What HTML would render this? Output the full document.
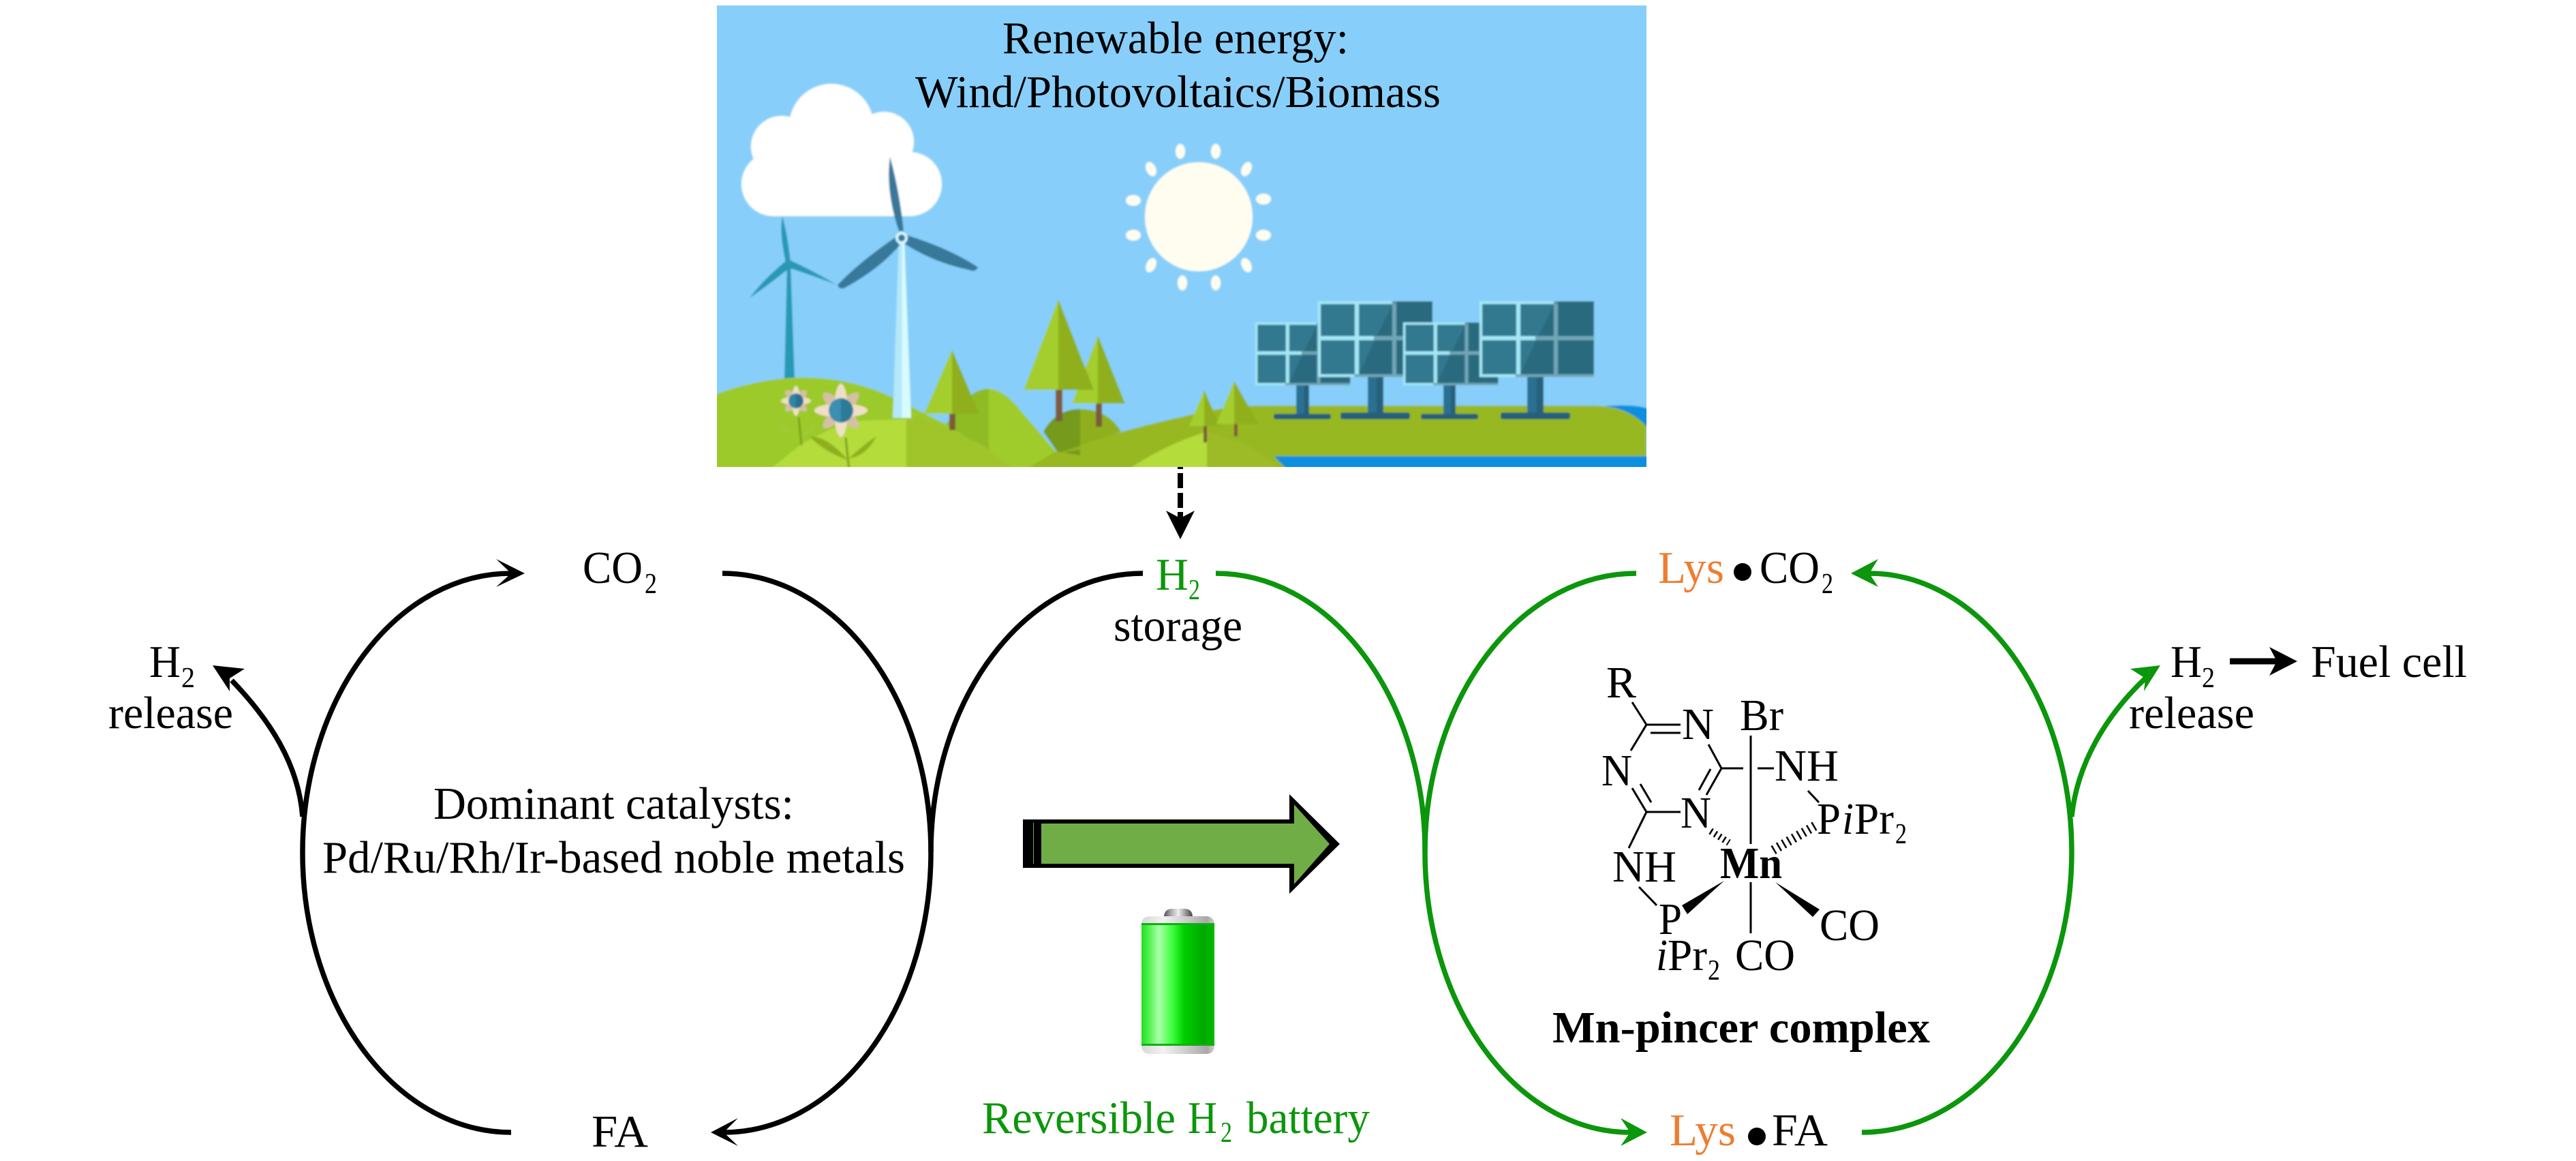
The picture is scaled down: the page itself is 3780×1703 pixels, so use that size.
<!DOCTYPE html>
<html><head><meta charset="utf-8"><style>
html,body{margin:0;padding:0;background:#fff}
svg{display:block}
text{font-family:"Liberation Serif",serif;font-size:67px;fill:#000}
.s{font-size:42px}
.g{fill:#0b960b}
.o{fill:#ed7d31}
.b{font-weight:bold}
.m{font-size:66px}
</style></head><body>
<svg width="3780" height="1703" viewBox="0 0 3780 1703" xmlns="http://www.w3.org/2000/svg">
<defs>
<filter id="soft" x="0" y="0" width="1" height="1"><feGaussianBlur stdDeviation="1.2"/></filter>
<clipPath id="sceneclip"><rect x="1052" y="8" width="1364" height="677"/></clipPath>
<linearGradient id="bat" x1="0" x2="1" y1="0" y2="0"><stop offset="0" stop-color="#20e020"/><stop offset=".1" stop-color="#50f050"/><stop offset=".24" stop-color="#a8ffa8"/><stop offset=".42" stop-color="#40ff40"/><stop offset=".58" stop-color="#00d000"/><stop offset=".85" stop-color="#00a800"/><stop offset="1" stop-color="#00bc00"/></linearGradient>
<linearGradient id="met" x1="0" x2="1" y1="0" y2="0"><stop offset="0" stop-color="#d8d8d8"/><stop offset=".3" stop-color="#f2f2f2"/><stop offset=".65" stop-color="#c8c8c8"/><stop offset=".9" stop-color="#a8a8a8"/><stop offset="1" stop-color="#d0d0d0"/></linearGradient>
<linearGradient id="cap" x1="0" x2="1" y1="0" y2="0"><stop offset="0" stop-color="#555"/><stop offset=".25" stop-color="#aaa"/><stop offset=".5" stop-color="#f0f0f0"/><stop offset=".75" stop-color="#999"/><stop offset="1" stop-color="#444"/></linearGradient>
<linearGradient id="tower" x1="0" x2="1" y1="0" y2="0"><stop offset=".5" stop-color="#b5e8f8"/><stop offset=".5" stop-color="#d8fbff"/></linearGradient>
<g id="panel">
<rect width="168" height="111" fill="#a4e8f8"/>
<rect x="82" y="51" width="86" height="6" fill="#6fa6b6"/>
<rect x="53" y="107" width="115" height="4" fill="#6fa6b6"/>
<rect x="109" y="0" width="6" height="111" fill="#6fa6b6"/>
<rect x="109" y="0" width="59" height="4" fill="#5f909f"/>
<rect x="4" y="4" width="50" height="47" fill="#33788e"/><rect x="60" y="4" width="49" height="47" fill="#33788e"/><rect x="115" y="0" width="53" height="51" fill="#2b6b7e"/>
<rect x="4" y="57" width="50" height="50" fill="#33788e"/><rect x="60" y="57" width="49" height="50" fill="#33788e"/><rect x="115" y="57" width="53" height="50" fill="#2b6b7e"/>
<path d="M109 6L86 51H109ZM83 57L60 107H109V57Z" fill="#2b6b7e"/>
</g>
</defs>

<!-- scene -->
<g clip-path="url(#sceneclip)"><g filter="url(#soft)">
<rect x="1040" y="0" width="1390" height="700" fill="#87cffa"/>
<!-- cloud -->
<g fill="#fff">
<circle cx="1220" cy="185" r="62"/><circle cx="1147" cy="215" r="45"/><circle cx="1297" cy="208" r="44"/><circle cx="1135" cy="270" r="47"/><circle cx="1335" cy="270" r="47"/><rect x="1135" y="190" width="200" height="127"/>
</g>
<!-- sun -->
<ellipse cx="1759" cy="318" rx="79" ry="80" fill="#fffdf0"/>
<g fill="#fffdf0">
<ellipse cx="1732" cy="222" rx="7" ry="11"/><ellipse cx="1784" cy="222" rx="7" ry="11"/>
<ellipse cx="1689" cy="248" rx="7" ry="11" transform="rotate(-25 1689 248)"/><ellipse cx="1829" cy="248" rx="7" ry="11" transform="rotate(25 1829 248)"/>
<ellipse cx="1663" cy="294" rx="11" ry="8"/><ellipse cx="1854" cy="292" rx="11" ry="8"/>
<ellipse cx="1663" cy="345" rx="11" ry="8"/><ellipse cx="1854" cy="345" rx="11" ry="8"/>
<ellipse cx="1689" cy="389" rx="7" ry="11" transform="rotate(25 1689 389)"/><ellipse cx="1829" cy="389" rx="7" ry="11" transform="rotate(-25 1829 389)"/>
<ellipse cx="1735" cy="415" rx="7" ry="11"/><ellipse cx="1784" cy="415" rx="7" ry="11"/>
</g>
<!-- small turbine -->
<g fill="#2699b5">
<path d="M1155 386L1160 386L1166 556H1151Z"/>
<path d="M1153 385Q1143 340 1148 317Q1156 345 1160 385Z"/>
<path d="M1154 382Q1120 410 1100 437Q1125 420 1160 392Z"/>
<path d="M1158 381Q1195 398 1228 418Q1195 405 1155 392Z"/>
</g>
<!-- right ground -->
<path d="M1491 685L1549 662Q1650 630 1740 610Q1790 597 1840 595L2340 595Q2390 597 2416 625V700H1491Z" fill="#98b824"/>
<path d="M2354 596Q2400 592 2420 600V630Q2395 600 2354 596Z" fill="#0f8fe0"/>
<path d="M1869 669H2420V700H1900Z" fill="#0f8fe0"/>
<!-- solar panels -->
<g fill="#2c7090">
<rect x="1902" y="560" width="19" height="50"/><rect x="2007" y="550" width="23" height="60"/><rect x="2118" y="560" width="18" height="50"/><rect x="2241" y="550" width="24" height="60"/>
</g>
<g fill="#27607a">
<rect x="1914" y="560" width="7" height="50"/><rect x="2020" y="550" width="10" height="60"/><rect x="2129" y="560" width="7" height="50"/><rect x="2255" y="550" width="10" height="60"/>
<rect x="1869" y="607" width="84" height="8" rx="3"/><rect x="1967" y="605" width="102" height="10" rx="3"/><rect x="2085" y="607" width="84" height="8" rx="3"/><rect x="2202" y="605" width="102" height="10" rx="3"/>
</g>
<use href="#panel" transform="translate(1842 473) scale(.83)"/>
<use href="#panel" transform="translate(1934 442)"/>
<use href="#panel" transform="translate(2059 473) scale(.83)"/>
<use href="#panel" transform="translate(2171 442)"/>
<!-- dark small hill -->
<path d="M1531 633Q1550 600 1585 600V668L1551 662Z" fill="#759a1c"/>
<path d="M1585 600Q1625 600 1645 633L1551 665L1585 660Z" fill="#8fb01f"/>
<!-- back trees -->
<rect x="1608" y="590" width="9" height="36" fill="#7d5a3a"/>
<path d="M1611 492L1573 592H1611Z" fill="#a4ce2e"/><path d="M1611 492L1651 592H1611Z" fill="#8fb01f"/>
<rect x="1549" y="570" width="10" height="48" fill="#7d5a3a"/>
<path d="M1553 439L1502 572H1553Z" fill="#a4ce2e"/><path d="M1553 439L1605 572H1553Z" fill="#8fb01f"/>
<!-- mid hill -->
<path d="M1388 622L1428 577Q1440 570 1451 570V700H1388Z" fill="#8fbc22"/>
<path d="M1451 570Q1475 572 1500 605L1549 662L1486 700H1451Z" fill="#9fcc2a"/>
<!-- left hill -->
<path d="M1040 582Q1187 525 1310 583L1388 622L1486 685V700H1040Z" fill="#9cca2c"/>
<!-- tree 1 -->
<rect x="1393" y="605" width="9" height="26" fill="#7d5a3a"/>
<path d="M1397 513L1356 607H1397Z" fill="#a4ce2e"/><path d="M1397 513L1437 607H1397Z" fill="#8fb01f"/>
<!-- foreground hill -->
<path d="M1115 700L1174 653Q1220 625 1263 617L1330 615V700Z" fill="#b4dc3a"/>
<path d="M1330 615L1350 610L1442 653L1500 700H1330Z" fill="#9fc52b"/>
<!-- right front hill -->
<path d="M1640 700Q1700 655 1771 633V700Z" fill="#b4dc3a"/>
<path d="M1771 633L1829 652L1900 700H1771Z" fill="#9cbb25"/>
<!-- front trees -->
<rect x="1766" y="625" width="5" height="24" fill="#7d5a3a"/><rect x="1811" y="620" width="5" height="20" fill="#7d5a3a"/>
<path d="M1767 572L1745 625H1767Z" fill="#a4ce2e"/><path d="M1767 572L1790 625H1767Z" fill="#8fb01f"/>
<path d="M1811 559L1785 622H1811Z" fill="#a4ce2e"/><path d="M1811 559L1847 622H1811Z" fill="#8fb01f"/>
<!-- big turbine -->
<path d="M1319 350H1327L1337 613H1310Z" fill="url(#tower)"/>
<g fill="#37789a">
<path d="M1319 339Q1299 280 1306 230Q1320 280 1326 339Z"/>
<path d="M1331 345Q1395 365 1435 392Q1432 400 1422 396Q1370 385 1328 358Z"/>
<path d="M1314 348Q1260 385 1229 418Q1232 426 1240 422Q1290 395 1320 360Z"/>
</g>
<circle cx="1323" cy="349" r="9" fill="#d4f4fb"/><circle cx="1323" cy="349" r="5" fill="#37789a"/>
<!-- flowers -->
<g stroke="#7f9e1e" stroke-width="3" fill="none"><path d="M1172 612L1176 653"/><path d="M1241 642L1246 690"/></g>
<path d="M1174 640Q1150 630 1142 618Q1145 635 1160 635ZM1174 640Q1190 630 1197 615Q1195 632 1180 640Z" fill="#a5c73a"/>
<path d="M1244 675Q1205 660 1188 640Q1215 640 1244 675ZM1246 672Q1270 650 1286 640Q1270 670 1246 672Z" fill="#8fb01f"/>
<g fill="#d5bfa5"><ellipse cx="1168" cy="588" rx="21" ry="7" transform="rotate(45 1168 588)"/><ellipse cx="1168" cy="588" rx="21" ry="7" transform="rotate(-45 1168 588)"/><ellipse cx="1234" cy="602" rx="36" ry="10" transform="rotate(45 1234 602)"/><ellipse cx="1234" cy="602" rx="36" ry="10" transform="rotate(-45 1234 602)"/></g>
<g fill="#efdfc5"><ellipse cx="1168" cy="588" rx="22" ry="6"/><ellipse cx="1168" cy="588" rx="6" ry="22"/><ellipse cx="1234" cy="602" rx="39" ry="10"/><ellipse cx="1234" cy="602" rx="10" ry="39"/></g>
<path d="M1168 577A11 11 0 0 0 1168 599Z" fill="#2e85a5"/><path d="M1168 577A11 11 0 0 1 1168 599Z" fill="#2a6f90"/>
<path d="M1234 584A18 18 0 0 0 1234 620Z" fill="#3a8fb0"/><path d="M1234 584A18 18 0 0 1 1234 620Z" fill="#2a7a98"/>
</g></g>
<!-- scene text -->
<text x="1471" y="78" textLength="508" lengthAdjust="spacingAndGlyphs">Renewable energy:</text>
<text x="1343" y="157" textLength="771" lengthAdjust="spacingAndGlyphs">Wind/Photovoltaics/Biomass</text>

<!-- dashed arrow -->
<g fill="#000"><rect x="1728" y="685" width="8" height="3"/><rect x="1728" y="694" width="8" height="22"/><rect x="1728" y="723" width="8" height="22"/><rect x="1728" y="751" width="8" height="12"/></g>
<path d="M1711 749L1732 760L1753 749L1732 791Z" fill="#000"/>

<!-- cycle arcs -->
<g fill="none" stroke="#000" stroke-width="7.5">
<path d="M750 1661A306 410 0 0 1 444 1250A306 409 0 0 1 750 841"/>
<path d="M1060 841A306 409 0 0 1 1366 1250A304 411 0 0 1 1062 1661"/>
<path d="M1677 841A311 409 0 0 0 1366 1250"/>
<path d="M444 1198C438 1120 395 1055 340 998"/>
</g>
<g fill="#000">
<path d="M770 841L728 820L750 841L728 861Z"/>
<path d="M1043 1661L1083 1640L1062 1661L1083 1681Z"/>
<path d="M312 976L359 981L337 995L337 1014Z"/>
</g>
<g fill="none" stroke="#0b960b" stroke-width="7.5">
<path d="M1784 841A307 408 0 0 1 2091 1249"/>
<path d="M2401 841A310 409 0 0 0 2091 1250A301 411 0 0 0 2392 1661"/>
<path d="M2743 841A297 409 0 0 1 3040 1250A308 411 0 0 1 2732 1661"/>
<path d="M3040 1198C3048 1120 3090 1050 3148 995"/>
</g>
<g fill="#0b960b">
<path d="M2716 841L2756 820L2743 841L2756 861Z"/>
<path d="M2417 1661L2378 1640L2392 1661L2378 1681Z"/>
<path d="M3170 976L3126 981L3148 995L3146 1014Z"/>
</g>
<!-- fuel arrow -->
<path d="M3272 970H3345" stroke="#000" stroke-width="9" fill="none"/>
<path d="M3371 970L3330 949L3341 970L3330 991Z" fill="#000"/>

<!-- big arrow -->
<path d="M1501 1202H1892V1165L1966 1238L1892 1311V1273H1501Z" fill="#000"/>
<path d="M1528 1208H1899V1180L1951 1238L1899 1297V1267H1528Z" fill="#70ad47"/>
<rect x="1516" y="1207" width="1" height="60" fill="#70ad47"/>

<!-- battery -->
<path d="M1708 1344Q1709 1333 1720 1333H1738Q1749 1333 1750 1344Z" fill="url(#cap)"/>
<rect x="1675" y="1344" width="107" height="202" rx="11" fill="url(#met)"/>
<rect x="1675" y="1354" width="107" height="180" fill="url(#bat)"/>
<rect x="1675" y="1354" width="107" height="3" fill="#0fb00f"/>
<rect x="1675" y="1531" width="107" height="3" fill="#0fb00f"/>

<!-- labels -->
<text x="855" y="855" textLength="88" lengthAdjust="spacingAndGlyphs">CO</text><text class="s" x="946" y="870" textLength="18" lengthAdjust="spacingAndGlyphs">2</text>
<text x="219" y="993" textLength="46" lengthAdjust="spacingAndGlyphs">H</text><text class="s" x="266" y="1008" textLength="20" lengthAdjust="spacingAndGlyphs">2</text>
<text x="159" y="1068" textLength="183" lengthAdjust="spacingAndGlyphs">release</text>
<text x="636" y="1201" textLength="529" lengthAdjust="spacingAndGlyphs">Dominant catalysts:</text>
<text x="473" y="1280" textLength="855" lengthAdjust="spacingAndGlyphs">Pd/Ru/Rh/Ir-based noble metals</text>
<text x="868" y="1682" textLength="83" lengthAdjust="spacingAndGlyphs">FA</text>

<text class="g" x="1696" y="865" textLength="48" lengthAdjust="spacingAndGlyphs">H</text><text class="s g" x="1744" y="879" textLength="17" lengthAdjust="spacingAndGlyphs">2</text>
<text x="1634" y="940" textLength="189" lengthAdjust="spacingAndGlyphs">storage</text>

<text class="g" x="1441" y="1662" textLength="284" lengthAdjust="spacingAndGlyphs">Reversible</text>
<text class="g" x="1743" y="1662" textLength="43" lengthAdjust="spacingAndGlyphs">H</text><text class="s g" x="1791" y="1675" textLength="17" lengthAdjust="spacingAndGlyphs">2</text>
<text class="g" x="1829" y="1662" textLength="181" lengthAdjust="spacingAndGlyphs">battery</text>

<text class="o" x="2433" y="855" textLength="97" lengthAdjust="spacingAndGlyphs">Lys</text>
<circle cx="2557" cy="839" r="13" fill="#000"/>
<text x="2582" y="855" textLength="88" lengthAdjust="spacingAndGlyphs">CO</text><text class="s" x="2673" y="870" textLength="17" lengthAdjust="spacingAndGlyphs">2</text>

<text class="o" x="2450" y="1680" textLength="97" lengthAdjust="spacingAndGlyphs">Lys</text>
<circle cx="2578" cy="1667" r="13" fill="#000"/>
<text x="2600" y="1680" textLength="82" lengthAdjust="spacingAndGlyphs">FA</text>

<text x="3185" y="993" textLength="46" lengthAdjust="spacingAndGlyphs">H</text><text class="s" x="3231" y="1008" textLength="19" lengthAdjust="spacingAndGlyphs">2</text>
<text x="3124" y="1068" textLength="184" lengthAdjust="spacingAndGlyphs">release</text>
<text x="3391" y="993" textLength="229" lengthAdjust="spacingAndGlyphs">Fuel cell</text>

<!-- molecule -->
<g fill="none" stroke="#000" stroke-width="3">
<path d="M2395 1030L2416 1063L2466 1063M2422 1075H2466M2416 1063L2393 1101"/>
<path d="M2507 1092L2526 1127H2558M2579 1127H2603M2526 1127L2504 1166M2510 1128L2493 1159"/>
<path d="M2395 1156L2416 1191H2466M2407 1150L2423 1177M2416 1191L2390 1244"/>
<path d="M2569 1079V1238M2569 1294V1369"/>
<path d="M2653 1160L2669 1177M2405 1301L2431 1328"/>
<path d="M2510 1219L2537 1236" stroke-width="10" stroke-dasharray="2.5 5"/>
<path d="M2602 1247L2664 1211" stroke-width="14" stroke-dasharray="2.5 6"/>
</g>
<g fill="#000">
<path d="M2530 1292L2468 1328L2476 1341Z"/>
<path d="M2605 1294L2670 1334L2660 1345Z"/>
</g>
<g class="m">
<text class="m" x="2357" y="1023" textLength="44" lengthAdjust="spacingAndGlyphs">R</text>
<text class="m" x="2468" y="1084" textLength="47" lengthAdjust="spacingAndGlyphs">N</text>
<text class="m" x="2553" y="1071" textLength="64" lengthAdjust="spacingAndGlyphs">Br</text>
<text class="m" x="2350" y="1152" textLength="45" lengthAdjust="spacingAndGlyphs">N</text>
<text class="m" x="2604" y="1145" textLength="94" lengthAdjust="spacingAndGlyphs">NH</text>
<text class="m" x="2466" y="1214" textLength="45" lengthAdjust="spacingAndGlyphs">N</text>
<text class="m" x="2666" y="1223" textLength="35" lengthAdjust="spacingAndGlyphs">P</text>
<text class="m" x="2703" y="1223" textLength="17" lengthAdjust="spacingAndGlyphs" font-style="italic">i</text>
<text class="m" x="2721" y="1223" textLength="58" lengthAdjust="spacingAndGlyphs">Pr</text>
<text class="s" x="2781" y="1237" textLength="17" lengthAdjust="spacingAndGlyphs">2</text>
<text class="m" x="2366" y="1293" textLength="94" lengthAdjust="spacingAndGlyphs">NH</text>
<text class="m b" x="2524" y="1288" textLength="91" lengthAdjust="spacingAndGlyphs">Mn</text>
<text class="m" x="2434" y="1370" textLength="34" lengthAdjust="spacingAndGlyphs">P</text>
<text class="m" x="2670" y="1379" textLength="88" lengthAdjust="spacingAndGlyphs">CO</text>
<text class="m" x="2430" y="1423" textLength="17" lengthAdjust="spacingAndGlyphs" font-style="italic">i</text>
<text class="m" x="2447" y="1423" textLength="58" lengthAdjust="spacingAndGlyphs">Pr</text>
<text class="s" x="2506" y="1437" textLength="18" lengthAdjust="spacingAndGlyphs">2</text>
<text class="m" x="2546" y="1423" textLength="88" lengthAdjust="spacingAndGlyphs">CO</text>
</g>
<text class="m b" x="2278" y="1529" textLength="554" lengthAdjust="spacingAndGlyphs">Mn-pincer complex</text>
</svg>
</body></html>
